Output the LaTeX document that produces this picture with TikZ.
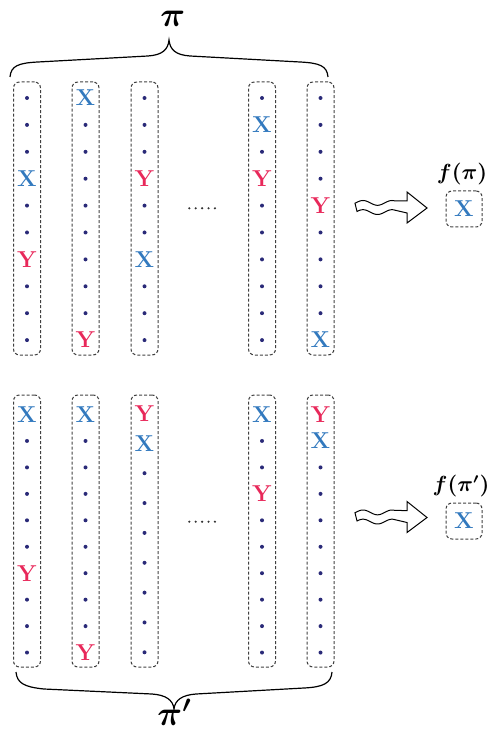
\documentclass[tikz,border=0pt]{standalone}
\usepackage{amsmath}
\usepackage{bm}
\definecolor{xblue}{HTML}{3279BE}
\definecolor{yred}{HTML}{E8285A}
\definecolor{dotc}{HTML}{2A2A78}
\def\txtd{}
\def\txtX{X}
\def\txtY{Y}
\begin{document}
\begin{tikzpicture}[x=0.5pt,y=-0.5pt,
  colbox/.style={draw=black!75, dash pattern=on 1.5pt off 1pt, rounded corners=3pt, line width=0.5pt, minimum width=13.5pt, inner sep=0pt},
  itd/.style={circle, fill=dotc, inner sep=0pt, minimum size=2pt},
  itX/.style={text=xblue, font=\fontsize{11.5}{12}\selectfont\bfseries, inner sep=0pt},
  itY/.style={itX, text=yred},
  bracepath/.style={line width=0.6pt, black},
  minidot/.style={circle, fill=black!80, inner sep=0pt, minimum size=1.2pt},
  fbox/.style={draw=black!75, dash pattern=on 1.5pt off 1pt, rounded corners=3pt, line width=0.5pt, minimum size=18pt, inner sep=0pt, text=xblue, font=\fontsize{11.5}{12}\selectfont\bfseries},
  lbl/.style={inner sep=0pt, font=\fontsize{10.5}{12}\selectfont},
  biglbl/.style={inner sep=0pt, font=\LARGE},
  squig/.pic={
    \draw[line width=0.5pt, fill=white]
      plot[domain=0:40, samples=41] (\x, {-4.6-2.4*sin(360*(\x-8)/29+90)})
      -- (52,-6.5) -- (52,-15.5) -- (72,0.5) -- (52,15.5) -- (52,5.5)
      -- plot[domain=0:38, samples=39] ({40-\x}, {4.6-2.4*sin(360*(32-\x)/29+90)})
      -- cycle;
  }
]
\useasboundingbox (0,0) rectangle (488,731);

% column boxes
\foreach \c/\cx in {1/27,2/85.5,3/144.5,4/262,5/320.5}{
  \node[colbox, minimum height=136.5pt] (t\c) at (\cx,218.5) {};
  \node[colbox, minimum height=136pt] (b\c) at (\cx,531) {};
}

% column contents
\foreach \c/\cx/\ya/\dy/\lst in {
  t1/27/98/26.9/{d,d,d,X,d,d,Y,d,d,d},
  t2/85.5/98/26.9/{X,d,d,d,d,d,d,d,d,Y},
  t3/144.5/98/26.9/{d,d,d,Y,d,d,X,d,d,d},
  t4/262/98/26.9/{d,X,d,Y,d,d,d,d,d,d},
  t5/320.5/98/26.9/{d,d,d,d,Y,d,d,d,d,X},
  b1/27/414.5/26.45/{X,d,d,d,d,d,Y,d,d,d},
  b2/85.5/414.5/26.45/{X,d,d,d,d,d,d,d,d,Y},
  b3/144.5/413.5/29.85/{Y,X,d,d,d,d,d,d,d},
  b4/262/414.5/26.45/{X,d,d,Y,d,d,d,d,d,d},
  b5/320.5/414.5/26.45/{Y,X,d,d,d,d,d,d,d,d}}{
  \foreach \t [count=\k from 0] in \lst {
    \node[it\t] (\c-\k) at (\cx, {\ya+\dy*\k}) {\csname txt\t\endcsname};
  }
}

% ellipsis dots
\foreach \i in {0,...,4}{
  \node[minidot] (mt\i) at ({189.3+6.4*\i},208.3) {};
  \node[minidot] (mb\i) at ({189.3+6.4*\i},521.7) {};
}

% braces
\draw[bracepath] (10,77) .. controls (11,66) and (18,63) .. (38,62) -- (148,56)
  .. controls (162,55) and (168,50) .. (169,40)
  .. controls (170,50) and (176,55) .. (190,56) -- (300,62)
  .. controls (320,63) and (327,66) .. (328,77);
\draw[bracepath] (16,672) .. controls (17,683) and (24,687) .. (44,689) -- (152,694)
  .. controls (166,695) and (173,700) .. (174,709)
  .. controls (175,700) and (182,695) .. (196,694) -- (304,688)
  .. controls (324,687) and (331,683) .. (332,672);

\node[biglbl, anchor=base west] (plab) at (160,27) {$\bm{\pi}$};
\node[biglbl, anchor=base west] (plabb) at (157,725) {$\bm{\pi'}$};

% results
\node[fbox] (fa) at (464,209) {X};
\node[lbl] (fal) at (462,174) {$\bm{f(\pi)}$};
\node[fbox] (fb) at (464,521) {X};
\node[lbl] (fbl) at (461,486) {$\bm{f(\pi')}$};

% squiggly arrows
\coordinate (sa) at (355,207.5);
\coordinate (sb) at (355,517);
\pic at (sa) {squig};
\pic at (sb) {squig};
\end{tikzpicture}
\end{document}
